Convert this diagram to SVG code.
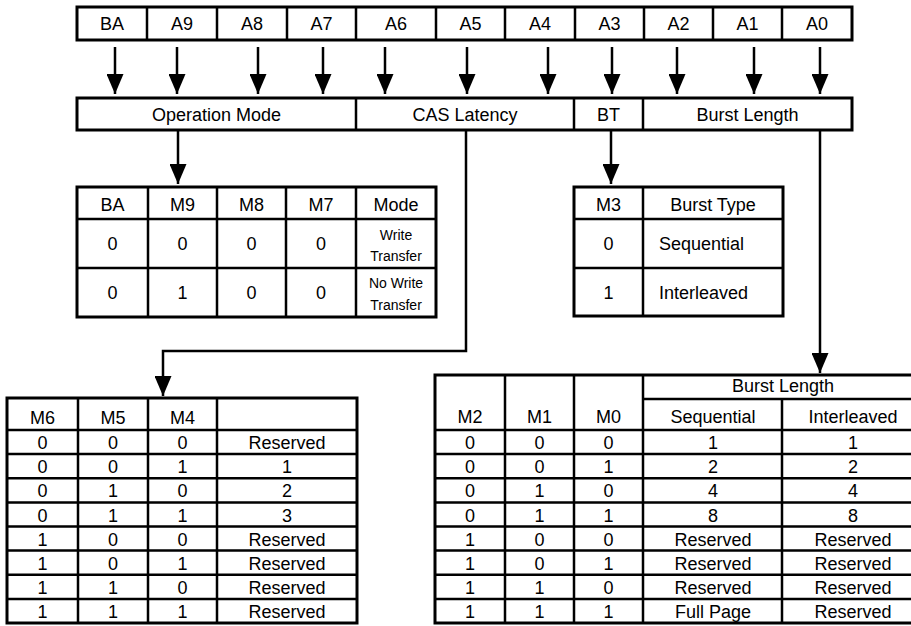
<svg xmlns="http://www.w3.org/2000/svg" width="911" height="626" viewBox="0 0 911 626">
<style>
text{font-family:"Liberation Sans",Arial,sans-serif;font-size:18px;fill:#000;text-anchor:middle}
.sm{font-size:14px}
.lf{text-anchor:start}
.box{fill:#fff;stroke:#000;stroke-width:3}
.div{stroke:#000;stroke-width:2.5;fill:none}
.con{stroke:#000;stroke-width:2.5;fill:none}
</style>
<defs>
<marker id="ah" markerUnits="userSpaceOnUse" markerWidth="20" markerHeight="17" refX="20" refY="8.5" orient="auto" viewBox="0 0 20 17">
<path d="M0,0 L20,8.5 L0,17 z" fill="#000"/>
</marker>
</defs>
<rect width="911" height="626" fill="#fff"/>

<g id="register-bits">
<rect class="box" x="77" y="7" width="775" height="33"/>
<path class="div" d="M147,7V40M217,7V40M287,7V40M356,7V40M436,7V40M505,7V40M575,7V40M644,7V40M713,7V40M782,7V40"/>
<text x="112" y="30">BA</text>
<text x="182" y="30">A9</text>
<text x="252" y="30">A8</text>
<text x="321.5" y="30">A7</text>
<text x="396" y="30">A6</text>
<text x="470.5" y="30">A5</text>
<text x="540" y="30">A4</text>
<text x="609.5" y="30">A3</text>
<text x="678.5" y="30">A2</text>
<text x="747.5" y="30">A1</text>
<text x="817" y="30">A0</text>
</g>

<g id="register-fields">
<rect class="box" x="77" y="98" width="775" height="32"/>
<path class="div" d="M356,98V130M574,98V130M643,98V130"/>
<text x="216.5" y="121">Operation Mode</text>
<text x="465" y="121">CAS Latency</text>
<text x="608.5" y="121">BT</text>
<text x="747.5" y="121">Burst Length</text>
</g>

<g id="connectors">
<path class="con" marker-end="url(#ah)" d="M115,47V94"/>
<path class="con" marker-end="url(#ah)" d="M177,47V94"/>
<path class="con" marker-end="url(#ah)" d="M258,47V94"/>
<path class="con" marker-end="url(#ah)" d="M323,47V94"/>
<path class="con" marker-end="url(#ah)" d="M385,47V94"/>
<path class="con" marker-end="url(#ah)" d="M467,47V94"/>
<path class="con" marker-end="url(#ah)" d="M548,47V94"/>
<path class="con" marker-end="url(#ah)" d="M612,47V94"/>
<path class="con" marker-end="url(#ah)" d="M677,47V94"/>
<path class="con" marker-end="url(#ah)" d="M754,47V94"/>
<path class="con" marker-end="url(#ah)" d="M820,47V94"/>
<path class="con" marker-end="url(#ah)" d="M178,131V184"/>
<path class="con" marker-end="url(#ah)" d="M611,131V184"/>
<path class="con" marker-end="url(#ah)" d="M466,131V351H163V396"/>
<path class="con" marker-end="url(#ah)" d="M820,131V373"/>
</g>

<g id="table-operation-mode">
<rect class="box" x="77" y="187" width="359" height="130"/>
<path class="div" d="M148,187V317M217,187V317M286,187V317M356,187V317M77,219H436M77,268H436"/>
<text x="112.5" y="211">BA</text>
<text x="182.5" y="211">M9</text>
<text x="251.5" y="211">M8</text>
<text x="321" y="211">M7</text>
<text x="396" y="211">Mode</text>
<text x="112.5" y="250">0</text>
<text x="182.5" y="250">0</text>
<text x="251.5" y="250">0</text>
<text x="321" y="250">0</text>
<text class="sm" x="396" y="240">Write</text>
<text class="sm" x="396" y="261">Transfer</text>
<text x="112.5" y="299">0</text>
<text x="182.5" y="299">1</text>
<text x="251.5" y="299">0</text>
<text x="321" y="299">0</text>
<text class="sm" x="396" y="288">No Write</text>
<text class="sm" x="396" y="310">Transfer</text>
</g>

<g id="table-burst-type">
<rect class="box" x="574" y="187" width="209" height="129"/>
<path class="div" d="M643,187V316M574,219H783M574,268H783"/>
<text x="608.5" y="211">M3</text>
<text x="713" y="211">Burst Type</text>
<text x="608.5" y="250">0</text>
<text class="lf" x="659" y="250">Sequential</text>
<text x="608.5" y="299">1</text>
<text class="lf" x="659" y="299">Interleaved</text>
</g>

<g id="table-cas-latency">
<rect class="box" x="7" y="398" width="350" height="225"/>
<path class="div" d="M78,398V623M148,398V623M217,398V623M7,430H357M7,454.1H357M7,478.3H357M7,502.4H357M7,526.5H357M7,550.6H357M7,574.8H357M7,598.9H357"/>
<text x="42.5" y="424">M6</text>
<text x="113" y="424">M5</text>
<text x="182.5" y="424">M4</text>
<text x="42.5" y="449">0</text><text x="113" y="449">0</text><text x="182.5" y="449">0</text><text x="287" y="449">Reserved</text>
<text x="42.5" y="473">0</text><text x="113" y="473">0</text><text x="182.5" y="473">1</text><text x="287" y="473">1</text>
<text x="42.5" y="497">0</text><text x="113" y="497">1</text><text x="182.5" y="497">0</text><text x="287" y="497">2</text>
<text x="42.5" y="521.5">0</text><text x="113" y="521.5">1</text><text x="182.5" y="521.5">1</text><text x="287" y="521.5">3</text>
<text x="42.5" y="545.5">1</text><text x="113" y="545.5">0</text><text x="182.5" y="545.5">0</text><text x="287" y="545.5">Reserved</text>
<text x="42.5" y="569.5">1</text><text x="113" y="569.5">0</text><text x="182.5" y="569.5">1</text><text x="287" y="569.5">Reserved</text>
<text x="42.5" y="594">1</text><text x="113" y="594">1</text><text x="182.5" y="594">0</text><text x="287" y="594">Reserved</text>
<text x="42.5" y="618">1</text><text x="113" y="618">1</text><text x="182.5" y="618">1</text><text x="287" y="618">Reserved</text>
</g>

<g id="table-burst-length">
<rect class="box" x="435" y="375" width="490" height="248"/>
<path class="div" d="M505,375V623M574,375V623M643,375V623M782,399V623M643,399H925M435,430H925M435,454.1H925M435,478.3H925M435,502.4H925M435,526.5H925M435,550.6H925M435,574.8H925M435,598.9H925"/>
<text x="783" y="392">Burst Length</text>
<text x="470" y="423">M2</text>
<text x="539.5" y="423">M1</text>
<text x="608.5" y="423">M0</text>
<text x="713" y="423">Sequential</text>
<text x="853" y="423">Interleaved</text>
<text x="470" y="449">0</text><text x="539.5" y="449">0</text><text x="608.5" y="449">0</text><text x="713" y="449">1</text><text x="853" y="449">1</text>
<text x="470" y="473">0</text><text x="539.5" y="473">0</text><text x="608.5" y="473">1</text><text x="713" y="473">2</text><text x="853" y="473">2</text>
<text x="470" y="497">0</text><text x="539.5" y="497">1</text><text x="608.5" y="497">0</text><text x="713" y="497">4</text><text x="853" y="497">4</text>
<text x="470" y="521.5">0</text><text x="539.5" y="521.5">1</text><text x="608.5" y="521.5">1</text><text x="713" y="521.5">8</text><text x="853" y="521.5">8</text>
<text x="470" y="545.5">1</text><text x="539.5" y="545.5">0</text><text x="608.5" y="545.5">0</text><text x="713" y="545.5">Reserved</text><text x="853" y="545.5">Reserved</text>
<text x="470" y="569.5">1</text><text x="539.5" y="569.5">0</text><text x="608.5" y="569.5">1</text><text x="713" y="569.5">Reserved</text><text x="853" y="569.5">Reserved</text>
<text x="470" y="594">1</text><text x="539.5" y="594">1</text><text x="608.5" y="594">0</text><text x="713" y="594">Reserved</text><text x="853" y="594">Reserved</text>
<text x="470" y="618">1</text><text x="539.5" y="618">1</text><text x="608.5" y="618">1</text><text x="713" y="618">Full Page</text><text x="853" y="618">Reserved</text>
</g>
</svg>
